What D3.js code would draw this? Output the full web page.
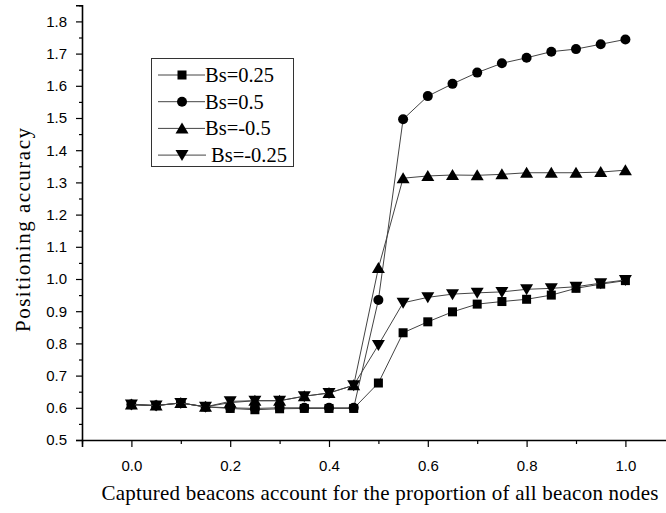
<!DOCTYPE html>
<html>
<head>
<meta charset="utf-8">
<script src="https://cdn.jsdelivr.net/npm/d3@7"></script>
<style>
  body { margin: 0; background: #fff; }
</style>
</head>
<body>
<div id="chart"></div>
<script>
var xValues = [0, 0.05, 0.1, 0.15, 0.2, 0.25, 0.3, 0.35, 0.4, 0.45, 0.5,
               0.55, 0.6, 0.65, 0.7, 0.75, 0.8, 0.85, 0.9, 0.95, 1.0];

var bs025  = [0.61, 0.607, 0.615, 0.603, 0.598, 0.594, 0.597, 0.598, 0.598, 0.598, 0.677,
              0.833, 0.867, 0.898, 0.922, 0.93, 0.937, 0.95, 0.971, 0.984, 0.995];
var bs05   = [0.61, 0.607, 0.615, 0.603, 0.6, 0.598, 0.6, 0.6, 0.6, 0.6, 0.935,
              1.496, 1.568, 1.606, 1.641, 1.67, 1.687, 1.706, 1.714, 1.729, 1.744];
var bsm05  = [0.61, 0.607, 0.615, 0.603, 0.616, 0.622, 0.622, 0.636, 0.646, 0.67, 1.034,
              1.313, 1.32, 1.323, 1.322, 1.325, 1.33, 1.33, 1.33, 1.332, 1.338];
var bsm025 = [0.61, 0.607, 0.615, 0.603, 0.62, 0.622, 0.622, 0.636, 0.646, 0.67, 0.795,
              0.926, 0.943, 0.953, 0.957, 0.96, 0.968, 0.971, 0.976, 0.987, 0.997];

var seriesNames = ["Bs=0.25", "Bs=0.5", "Bs=-0.5", "Bs=-0.25"];
var seriesValues = [bs025, bs05, bsm05, bsm025];
var symbols = ["square", "circle", "triUp", "triDown"];

var xMajorTicks = [0, 0.2, 0.4, 0.6, 0.8, 1.0];
var xMinorTicks = [-0.1, 0.1, 0.3, 0.5, 0.7, 0.9, 1.1];
var yMajorTicks = [0.5, 0.6, 0.7, 0.8, 0.9, 1.0, 1.1, 1.2, 1.3, 1.4, 1.5, 1.6, 1.7, 1.8];
var yMinorTicks = [0.55, 0.65, 0.75, 0.85, 0.95, 1.05, 1.15, 1.25, 1.35, 1.45, 1.55, 1.65, 1.75, 1.85];

var W = 666, H = 513;
var left = 82, bottom = 440;

var x = d3.scaleLinear().domain([-0.1, 1.1]).range([left, left + 1.2 * 494]);
var y = d3.scaleLinear().domain([0.5, 1.85]).range([bottom, bottom - 1.35 * 322]);

var svg = d3.select("#chart").append("svg")
    .attr("width", W)
    .attr("height", H)
    .style("background-color", "#fff");

// symbol drawing
function drawMarker(g, type, cx, cy) {
    if (type === "square") {
        g.append("rect").attr("x", cx - 4.5).attr("y", cy - 4.5)
            .attr("width", 9).attr("height", 9).attr("fill", "#000");
    } else if (type === "circle") {
        g.append("circle").attr("cx", cx).attr("cy", cy).attr("r", 5).attr("fill", "#000");
    } else if (type === "triUp") {
        g.append("path").attr("d", "M" + cx + "," + (cy - 6) + "L" + (cx + 6.5) + "," + (cy + 5) +
            "L" + (cx - 6.5) + "," + (cy + 5) + "Z").attr("fill", "#000");
    } else {
        g.append("path").attr("d", "M" + cx + "," + (cy + 6) + "L" + (cx + 6.5) + "," + (cy - 5) +
            "L" + (cx - 6.5) + "," + (cy - 5) + "Z").attr("fill", "#000");
    }
}

// axes
var xAxis = svg.append("g").attr("transform", "translate(0," + bottom + ")")
    .call(d3.axisBottom(x).tickValues(xMajorTicks).tickSize(7).tickFormat(d3.format(".1f")));
svg.append("g").attr("transform", "translate(0," + bottom + ")")
    .call(d3.axisBottom(x).tickValues(xMinorTicks).tickSize(4).tickFormat(""))
    .select(".domain").remove();

var yAxis = svg.append("g").attr("transform", "translate(" + left + ",0)")
    .call(d3.axisLeft(y).tickValues(yMajorTicks).tickSize(6).tickFormat(d3.format(".1f")));
svg.append("g").attr("transform", "translate(" + left + ",0)")
    .call(d3.axisLeft(y).tickValues(yMinorTicks).tickSize(3).tickFormat(""))
    .select(".domain").remove();

svg.selectAll(".domain").attr("stroke", "#000").attr("stroke-width", 1.6);
svg.selectAll(".tick line").attr("stroke", "#000").attr("stroke-width", 1.2);
xAxis.selectAll(".tick text")
    .attr("font-family", "Liberation Sans, Arial, sans-serif")
    .attr("font-size", "15px").attr("fill", "#000").attr("y", 26).attr("dy", "0.32em");
yAxis.selectAll(".tick text")
    .attr("font-family", "Liberation Sans, Arial, sans-serif")
    .attr("font-size", "15px").attr("fill", "#000").attr("x", -15);

// series
var line = d3.line()
    .x(function (d) { return x(d[0]); })
    .y(function (d) { return y(d[1]); });

seriesValues.forEach(function (vals, i) {
    var pts = xValues.map(function (xv, j) { return [xv, vals[j]]; });
    svg.append("path")
        .datum(pts)
        .attr("fill", "none")
        .attr("stroke", "#444")
        .attr("stroke-width", 1)
        .attr("d", line);
    var g = svg.append("g");
    pts.forEach(function (p) {
        drawMarker(g, symbols[i], x(p[0]), y(p[1]));
    });
});

// axis titles
svg.append("text")
    .attr("x", 380)
    .attr("y", 500)
    .style("text-anchor", "middle")
    .attr("font-family", "Liberation Serif, Times New Roman, serif")
    .attr("font-size", "21px")
    .attr("textLength", 557)
    .attr("fill", "#000")
    .text("Captured beacons account for the proportion of all beacon nodes");

svg.append("text")
    .attr("transform", "translate(30,230) rotate(-90)")
    .style("text-anchor", "middle")
    .attr("font-family", "Liberation Serif, Times New Roman, serif")
    .attr("font-size", "21px")
    .attr("textLength", 204)
    .attr("fill", "#000")
    .text("Positioning accuracy");

// legend
var legend = svg.append("g");
legend.append("rect")
    .attr("x", 151.5).attr("y", 58.5)
    .attr("width", 142).attr("height", 108)
    .attr("fill", "#fff").attr("stroke", "#333").attr("stroke-width", 1);

seriesNames.forEach(function (name, i) {
    var ly = 75 + i * 26.7;
    legend.append("line")
        .attr("x1", 158).attr("x2", i === 3 ? 206 : 205)
        .attr("y1", ly).attr("y2", ly)
        .attr("stroke", "#444").attr("stroke-width", 1);
    drawMarker(legend, symbols[i], 182, ly);
    legend.append("text")
        .attr("x", i === 3 ? 211 : 205)
        .attr("y", ly + 7)
        .attr("font-family", "Liberation Serif, Times New Roman, serif")
        .attr("font-size", "20.5px")
        .attr("fill", "#000")
        .text(name);
});
</script>
</body>
</html>
